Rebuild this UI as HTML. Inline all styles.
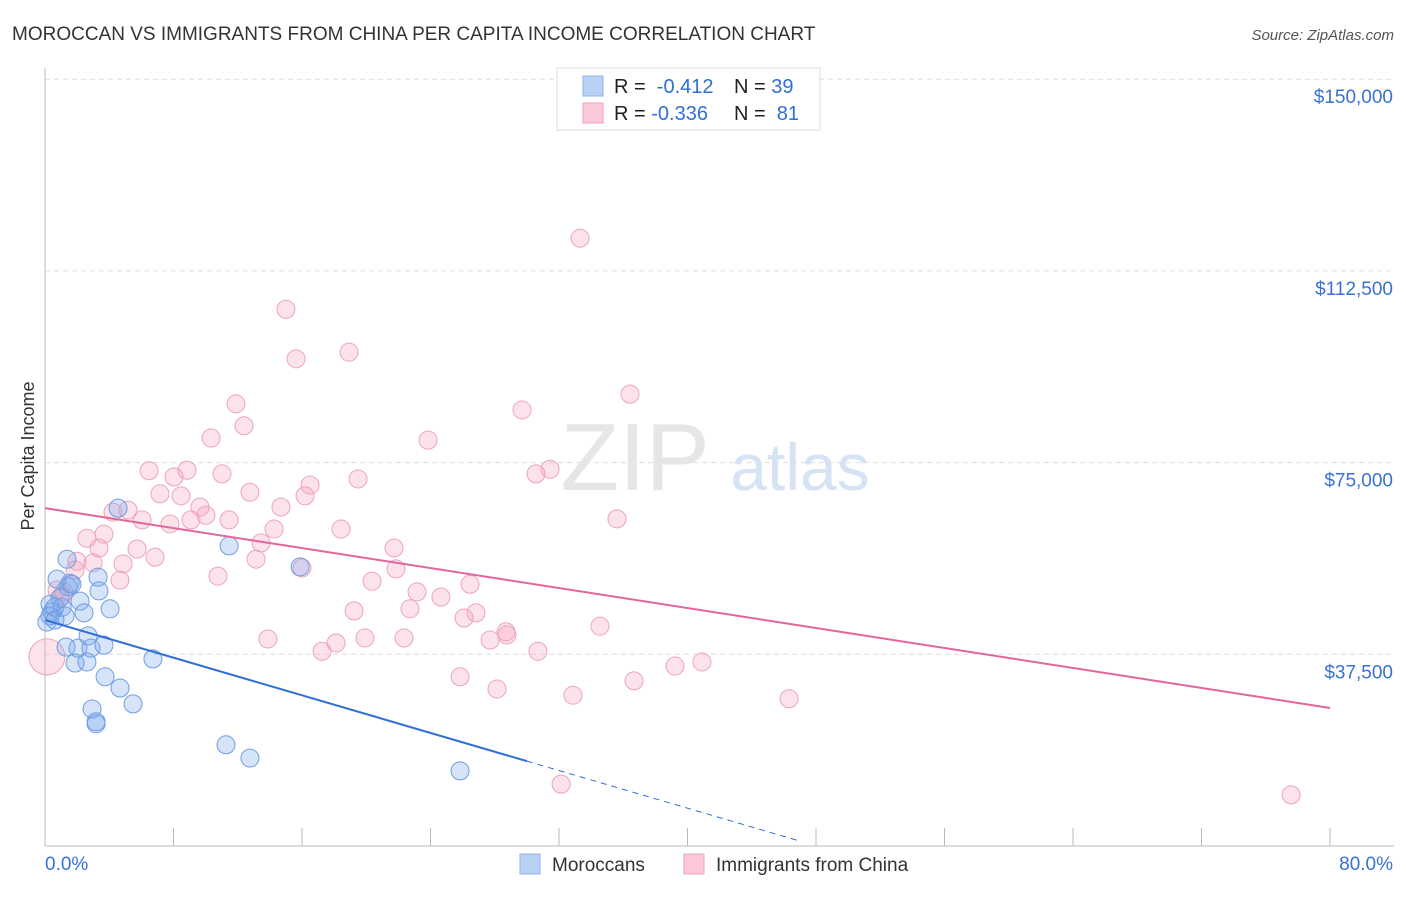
<!DOCTYPE html>
<html><head><meta charset="utf-8"><style>
body{margin:0;background:#fff;font-family:"Liberation Sans",sans-serif;}
svg text{font-family:"Liberation Sans",sans-serif;}
</style></head><body>
<svg id="chart" width="1406" height="892" viewBox="0 0 1406 892">
<text x="12" y="40" font-size="19" fill="#333">MOROCCAN VS IMMIGRANTS FROM CHINA PER CAPITA INCOME CORRELATION CHART</text>
<text x="1394" y="40" font-size="15" fill="#555" font-style="italic" text-anchor="end">Source: ZipAtlas.com</text>
<text x="34" y="456" font-size="18" fill="#333" transform="rotate(-90 34 456)" text-anchor="middle">Per Capita Income</text>
<g id="grid"></g>
<text x="635" y="490" font-size="96" fill="#e6e6e6" font-family="Liberation Serif" text-anchor="middle">ZIP</text>
<text x="800" y="490" font-size="66" fill="#d5e3f5" text-anchor="middle">atlas</text>
<g id="marks"></g>
<g>
<rect x="557" y="68" width="263" height="62" fill="#fff" stroke="#ddd"/>
<rect x="583" y="76" width="20" height="20" fill="#b9d1f5" stroke="#8fb2e8"/>
<rect x="583" y="103" width="20" height="20" fill="#fcc9d8" stroke="#efa0ba"/>
<text x="614" y="93" font-size="20" fill="#222">R = <tspan fill="#2f6fd6">&#160;-0.412</tspan></text>
<text x="734" y="93" font-size="20" fill="#222">N = <tspan fill="#2f6fd6">39</tspan></text>
<text x="614" y="120" font-size="20" fill="#222">R = <tspan fill="#2f6fd6">-0.336</tspan></text>
<text x="734" y="120" font-size="20" fill="#222">N = <tspan fill="#2f6fd6">&#160;81</tspan></text>
</g>
<g>
<rect x="520" y="854" width="20" height="20" fill="#b9d1f5" stroke="#8fb2e8"/>
<text x="552" y="871" font-size="19" fill="#333">Moroccans</text>
<rect x="684" y="854" width="20" height="20" fill="#fcc9d8" stroke="#efa0ba"/>
<text x="716" y="871" font-size="19" fill="#333">Immigrants from China</text>
</g>
</svg>
<script>
const yTicks=[37500,75000,112500,150000];
const yTickLabels=["$37,500","$75,000","$112,500","$150,000"];
const xTickValues=[0,8,16,24,32,40,48,56,64,72,80];
const xEndLabels=["0.0%","80.0%"];
const moroccoX=[1.37,0.75,1.56,3.30,1.43,0.31,0.62,1.06,2.18,0.44,2.43,4.05,3.36,0.12,1.25,2.68,1.31,2.05,2.86,3.67,1.87,2.61,3.74,4.67,5.48,2.93,3.18,3.18,6.72,4.55,11.46,15.88,11.27,12.76,25.84,1.68,0.93,0.31,0.62];
const moroccoY=[56100,52200,51400,52600,50700,47300,46700,46700,47900,45800,45600,46400,49900,43800,45000,41100,38900,38700,38700,39300,35800,36000,33100,30900,27800,26800,24300,23900,36600,66100,58700,54600,19800,17200,14700,51200,48500,45000,44200];
const chinaX=[33.31,15.00,15.63,18.93,36.42,11.89,29.70,12.39,10.34,23.85,6.48,8.84,11.02,8.03,31.44,30.57,19.49,16.50,12.76,7.16,8.47,16.19,9.65,14.69,5.17,10.02,4.23,6.04,9.09,11.46,7.78,35.61,18.43,14.26,2.61,3.67,13.45,3.36,5.73,21.73,6.85,13.14,4.86,1.99,2.99,21.85,16.00,10.77,4.67,20.36,26.46,1.18,23.16,24.65,22.72,19.24,26.83,26.09,34.55,13.88,19.92,22.35,28.70,28.76,27.71,18.12,17.25,30.69,40.90,39.22,25.84,36.67,28.14,32.87,46.32,32.13,77.58,1.06,1.87,0.75,0.12];
const chinaY=[118900,105000,95300,96600,88400,86500,85300,82200,79800,79400,73400,73500,72800,72200,73700,72800,71800,70600,69200,68900,68500,68500,66300,66300,65700,64700,65300,63800,63800,63800,63000,64000,62000,62000,60200,61000,59300,58300,58100,58300,56500,56100,55200,55700,55400,54200,54400,52800,52000,51800,51200,49700,49700,48700,46400,46000,45600,44600,43000,40500,40700,40700,41900,41300,40300,39700,38100,38100,36000,35200,33100,32300,30700,29500,28800,12100,10000,48900,54000,50100,37000];
const moroccoTrend=[44200,16600];
const moroccoTrendX=[0,30,46.9];
const chinaTrend=[66100,27000];
const NS="http://www.w3.org/2000/svg";
const X=v=>45+v/80*1285;
const Y=v=>846-v/37500*191.7;
function mk(tag,attrs,parent){const e=document.createElementNS(NS,tag);for(const k in attrs)e.setAttribute(k,attrs[k]);parent.appendChild(e);return e;}
const grid=document.getElementById('grid');
yTicks.forEach((t,i)=>{
  const l=mk('line',{x1:45,x2:1394,y1:Y(t),y2:Y(t),stroke:'#ddd','stroke-dasharray':'5,4'},grid);
  
  
  const tx=mk('text',{x:1393,y:Y(t)+24,'font-size':19,fill:'#3a72d4','text-anchor':'end'},grid);
  tx.textContent=yTickLabels[i];
  
  
});
const ya=mk('line',{x1:45,x2:45,y1:68,y2:846,stroke:'#bbb'},grid);


const xa=mk('line',{x1:45,x2:1394,y1:846,y2:846,stroke:'#bbb'},grid);


xTickValues.forEach(v=>{
  const t=mk('line',{x1:X(v),x2:X(v),y1:828,y2:846,stroke:'#bbb'},grid);
  
  
});
const xl0=mk('text',{x:45,y:870,'font-size':19,fill:'#3a72d4'},grid);
xl0.textContent=xEndLabels[0];


const xl1=mk('text',{x:1393,y:870,'font-size':19,fill:'#3a72d4','text-anchor':'end'},grid);
xl1.textContent=xEndLabels[1];


const marks=document.getElementById('marks');
chinaX.forEach((x,i)=>{
  const big=i===chinaX.length-1;
  const c=mk('circle',{cx:X(x),cy:Y(chinaY[i]),r:big?18:9,fill:'rgba(246,160,188,0.3)',stroke:'#eea3bc','stroke-width':1},marks);
  
  
});
moroccoX.forEach((x,i)=>{
  const c=mk('circle',{cx:X(x),cy:Y(moroccoY[i]),r:9,fill:'rgba(120,165,235,0.3)',stroke:'#6f9ee2','stroke-width':1},marks);
  
  
});
const slopeM=(moroccoTrend[1]-moroccoTrend[0])/moroccoTrendX[1];
const mY=x=>moroccoTrend[0]+slopeM*x;
const bl=mk('line',{x1:X(0),y1:Y(mY(0)),x2:X(moroccoTrendX[1]),y2:Y(mY(moroccoTrendX[1])),stroke:'#2f6fd6','stroke-width':2},marks);


const bd=mk('line',{x1:X(moroccoTrendX[1]),y1:Y(mY(moroccoTrendX[1])),x2:X(moroccoTrendX[2]),y2:Y(mY(moroccoTrendX[2])),stroke:'#2f6fd6','stroke-width':1,'stroke-dasharray':'6,5'},marks);


const pl=mk('line',{x1:X(0),y1:Y(chinaTrend[0]),x2:X(80),y2:Y(chinaTrend[1]),stroke:'#e5659a','stroke-width':2},marks);


</script>
</body></html>
